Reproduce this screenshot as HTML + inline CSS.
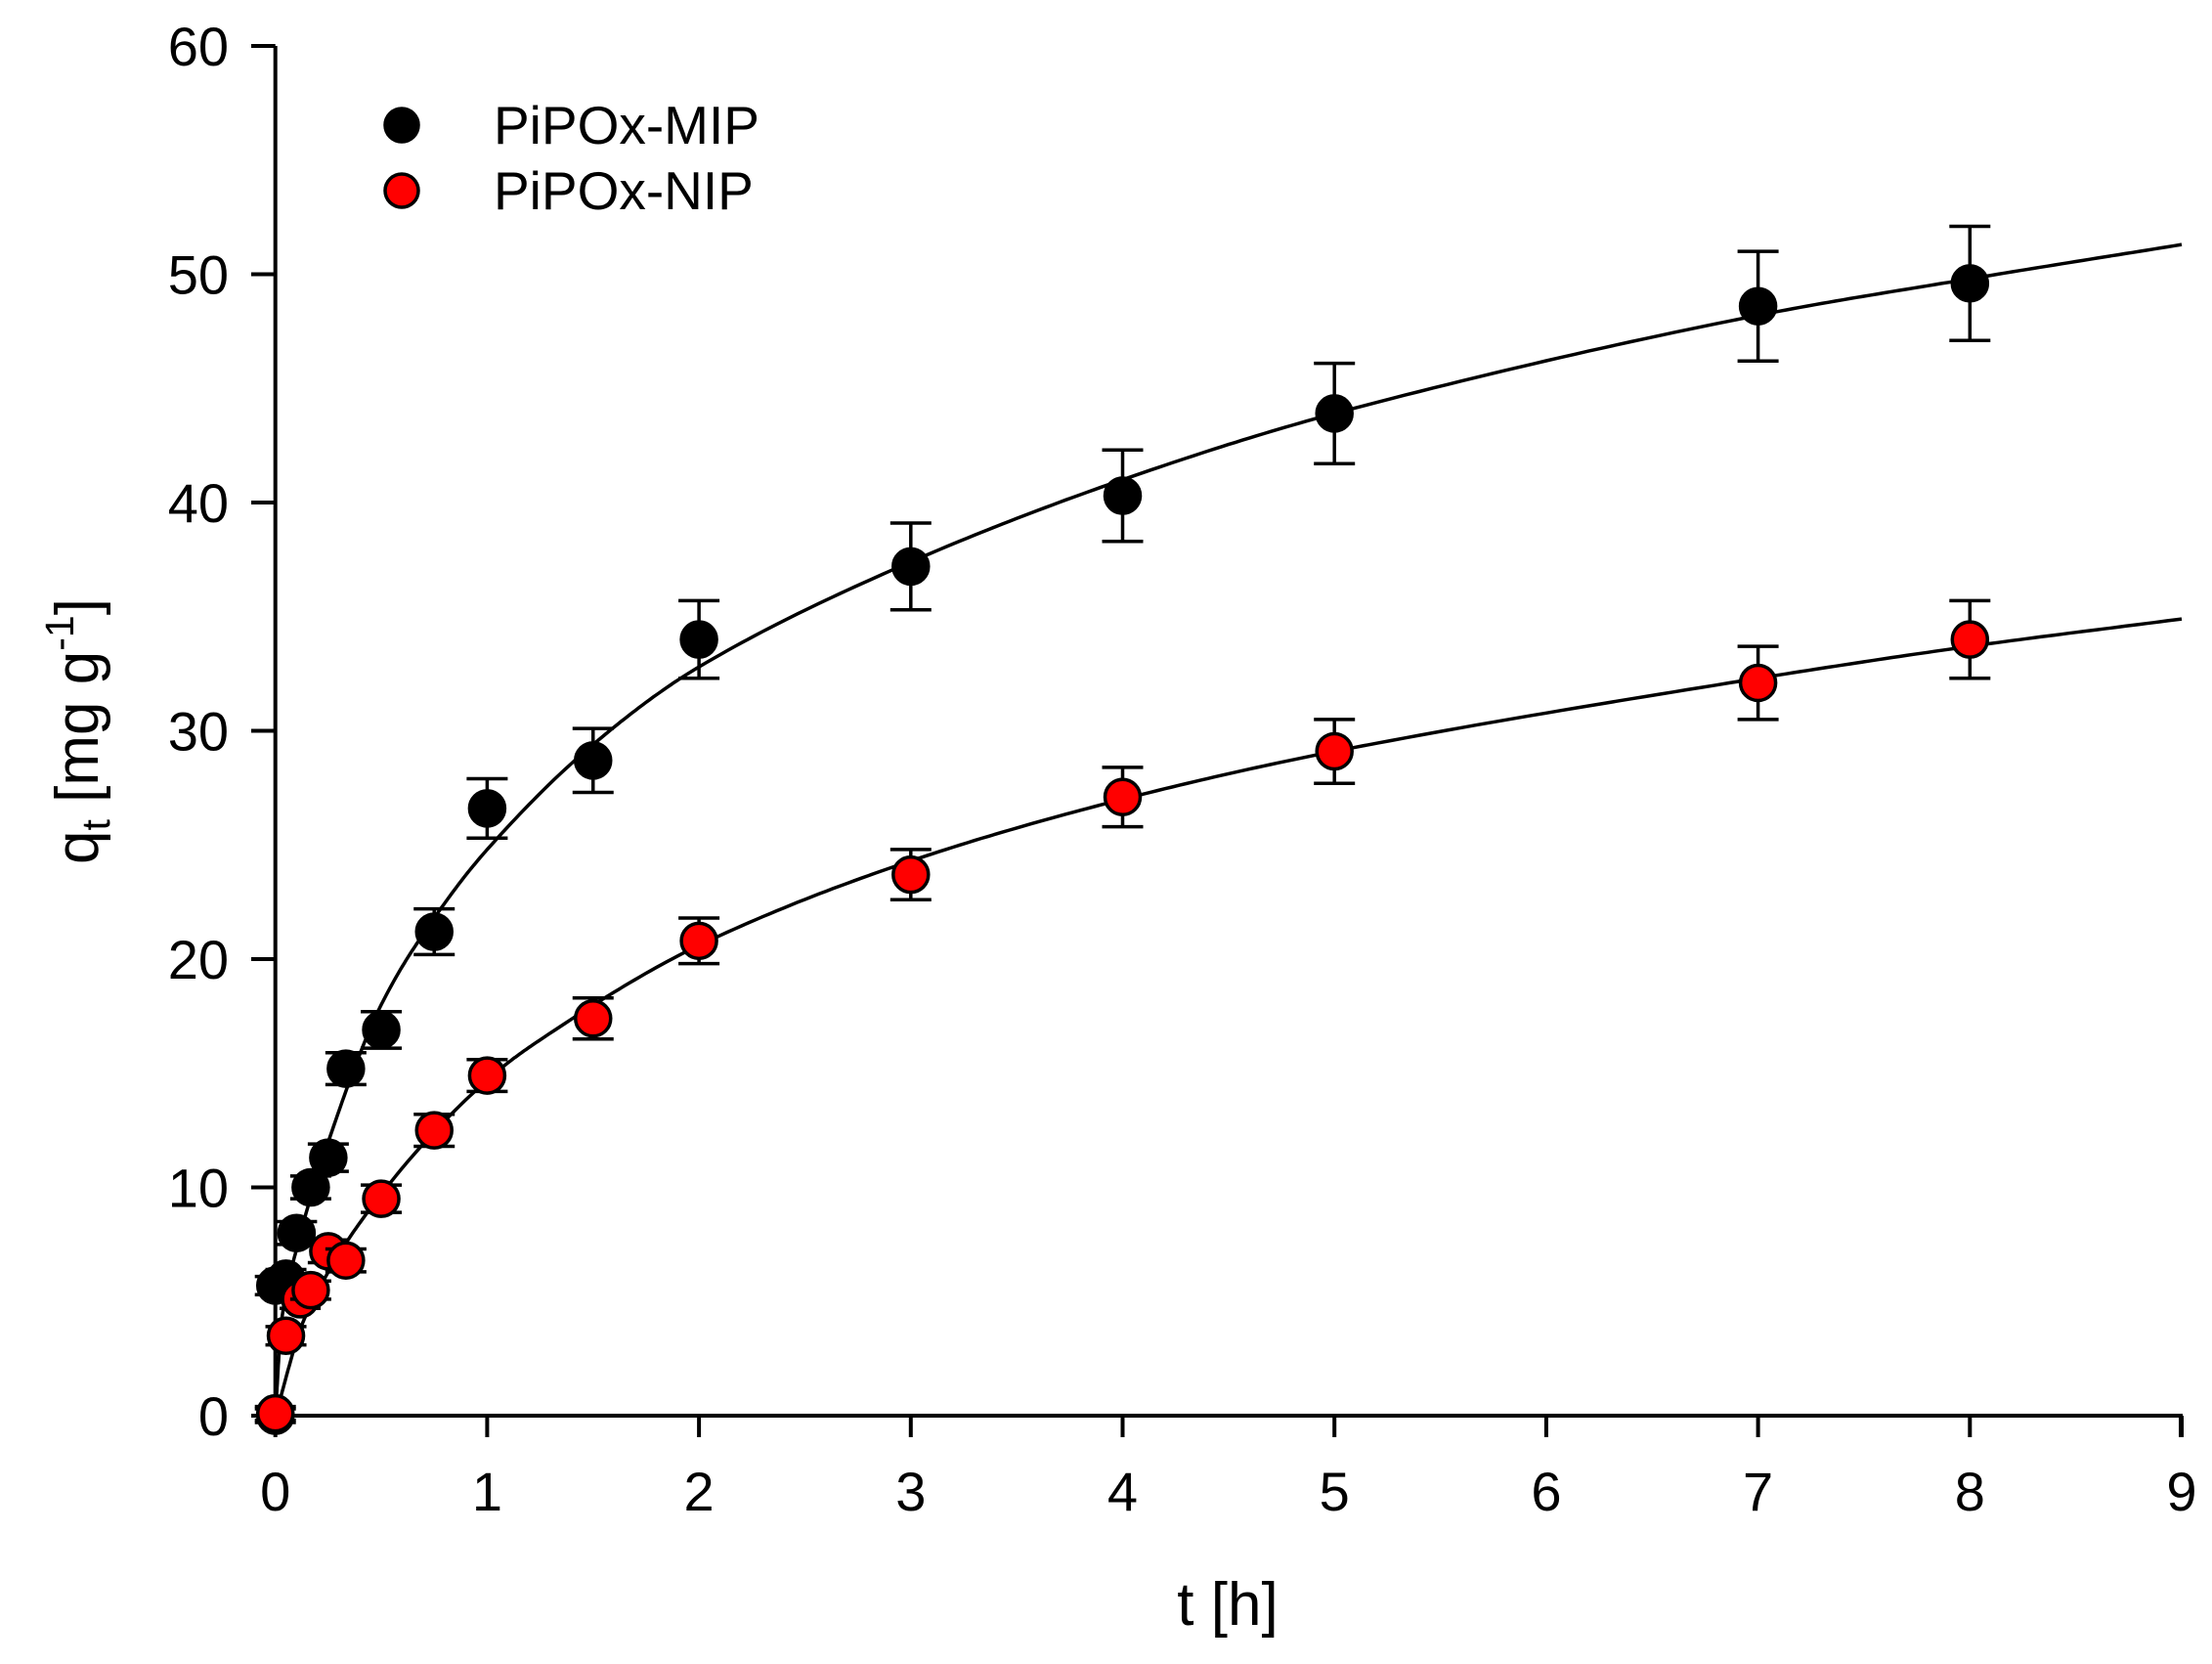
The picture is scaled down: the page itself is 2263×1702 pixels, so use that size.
<!DOCTYPE html>
<html><head><meta charset="utf-8"><style>
html,body{margin:0;padding:0;background:#fff;}
svg{display:block;font-family:"Liberation Sans",Arial,sans-serif;}
</style></head><body>
<svg id="s" width="2263" height="1702" viewBox="0 0 2263 1702" xmlns="http://www.w3.org/2000/svg">
<rect width="2263" height="1702" fill="#fff"/>
<g id="axes" stroke="#000" stroke-width="4" fill="none"></g>
<g id="labels" font-size="56" fill="#000"></g>
<g id="curves" stroke="#000" stroke-width="3.5" fill="none"></g>
<g id="pts"></g>
<text x="0" y="0" font-size="62" transform="translate(100,748) rotate(-90)" text-anchor="middle">q<tspan font-size="41" dy="12">t</tspan><tspan dy="-12"> [mg g</tspan><tspan font-size="41" dy="-25">-1</tspan><tspan dy="25">]</tspan></text>
<text x="1256" y="1662" font-size="62" text-anchor="middle">t [h]</text>
<circle cx="411" cy="128" r="17" fill="#000" stroke="#000" stroke-width="3.5"/>
<circle cx="411" cy="195" r="17" fill="#f00" stroke="#000" stroke-width="3.5"/>
<text x="505" y="147" font-size="55">PiPOx-MIP</text>
<text x="505" y="214" font-size="55">PiPOx-NIP</text>
</svg>
<script>
var X0=281.7,XS=216.7,Y0=1448,YS=23.35;
function X(t){return X0+t*XS;} function Y(q){return Y0-q*YS;}
var NS="http://www.w3.org/2000/svg";
function el(p,n,a,txt){var e=document.createElementNS(NS,n);for(var k in a)e.setAttribute(k,a[k]);if(txt!==undefined)e.textContent=txt;document.getElementById(p).appendChild(e);return e;}
el("axes","path",{d:"M"+X0+",47 L"+X0+",1448 L2231,1448 L2231,1470"});
for(var i=0;i<=6;i++){var y=Y(i*10);el("axes","line",{x1:257,y1:y,x2:X0,y2:y});el("labels","text",{x:234,y:y+20,"text-anchor":"end"},String(i*10));}
for(var i=0;i<=9;i++){var x=X(i);el("axes","line",{x1:x,y1:1448,x2:x,y2:1470});el("labels","text",{x:x,y:1545,"text-anchor":"middle"},String(i));}
function spline(P){var n=P.length,m=[],d=[];for(var i=0;i<n-1;i++)d.push((P[i+1][1]-P[i][1])/(P[i+1][0]-P[i][0]));
m[0]=d[0];m[n-1]=d[n-2];for(var i=1;i<n-1;i++)m[i]=(d[i-1]*d[i]<=0)?0:2/(1/d[i-1]+1/d[i]);
var s="M"+X(P[0][0])+","+Y(P[0][1]);for(var i=0;i<n-1;i++){var h=P[i+1][0]-P[i][0];for(var k=1;k<=30;k++){var u=k/30,h00=2*u*u*u-3*u*u+1,h10=u*u*u-2*u*u+u,h01=-2*u*u*u+3*u*u,h11=u*u*u-u*u;
var q=h00*P[i][1]+h10*h*m[i]+h01*P[i+1][1]+h11*h*m[i+1];s+=" L"+X(P[i][0]+u*h).toFixed(1)+","+Y(q).toFixed(1);}}return s;}
el("curves","path",{d:spline([[0,0],[0.03,4.2],[0.1,7.3],[0.25,12],[0.5,18],[0.75,21.8],[1,24.8],[1.5,29.4],[2,32.8],[3,37.4],[4,41.0],[5,43.9],[7,48.2],[8,49.8],[9,51.3]])});
el("curves","path",{d:spline([[0,0],[0.14,4.3],[0.5,9.7],[1,14.7],[1.24,16.4],[2,20.6],[3,24.3],[4,27],[5,29.1],[7,32.3],[8,33.7],[9,34.9]])});
var mip=[[0,0,0.3],[0,5.7,0.4],[0.05,6,0.4],[0.1,8,0.5],[0.167,10,0.5],[0.25,11.3,0.6],[0.333,15.2,0.7],[0.5,16.9,0.8],[0.75,21.2,1],[1,26.6,1.3],[1.5,28.7,1.4],[2,34,1.7],[3,37.2,1.9],[4,40.3,2],[5,43.9,2.2],[7,48.6,2.4],[8,49.6,2.5]];
var nip=[[0,0.1,0.3],[0.05,3.5,0.4],[0.117,5.1,0.4],[0.167,5.5,0.4],[0.25,7.2,0.5],[0.333,6.8,0.5],[0.5,9.5,0.6],[0.75,12.5,0.7],[1,14.9,0.7],[1.5,17.4,0.9],[2,20.8,1],[3,23.7,1.1],[4,27.1,1.3],[5,29.1,1.4],[7,32.1,1.6],[8,34,1.7]];
function draw(D,fill){D.forEach(function(p){var x=X(p[0]),y1=Y(p[1]+p[2]),y2=Y(p[1]-p[2]);
el("pts","path",{d:"M"+x+","+y1+" L"+x+","+y2+" M"+(x-21)+","+y1+" L"+(x+21)+","+y1+" M"+(x-21)+","+y2+" L"+(x+21)+","+y2,stroke:"#000","stroke-width":3.5,fill:"none"});
el("pts","circle",{cx:x,cy:Y(p[1]),r:18,fill:fill,stroke:"#000","stroke-width":3.5});});}
draw(mip,"#000");draw(nip,"#f00");
</script>
</body></html>
